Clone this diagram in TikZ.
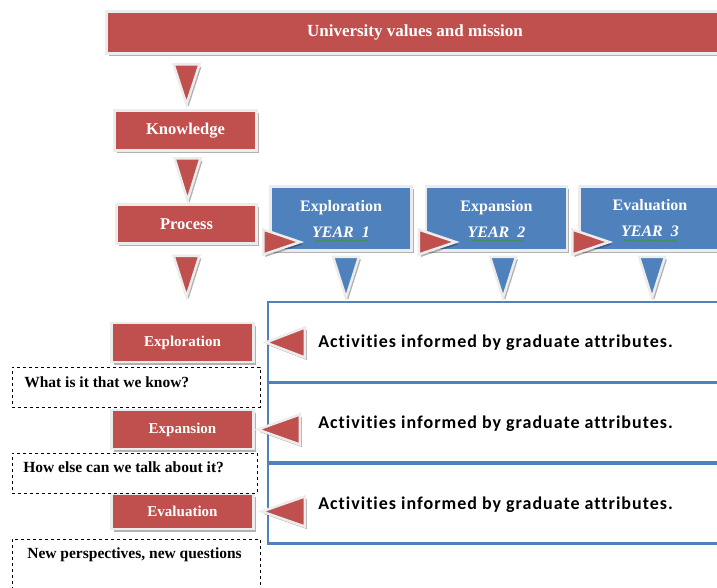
\documentclass[tikz,border=0pt]{standalone}
\usepackage{fontspec}
\setmainfont{Liberation Serif}
\newfontfamily\actfont[Ligatures=NoCommon,LetterSpace=5.5]{Carlito}
\usetikzlibrary{shadows,decorations.pathmorphing}
\definecolor{boxred}{RGB}{192,80,77}
\definecolor{boxblue}{RGB}{79,129,189}
\definecolor{rimgray}{RGB}{236,236,236}
\definecolor{spellgreen}{RGB}{60,150,60}

\tikzset{
  shadowed/.style={drop shadow={shadow xshift=2pt,shadow yshift=-2.5pt,fill=black,opacity=0.3}},
  redbox/.style={rectangle,fill=boxred,draw=rimgray,line width=2.5pt,shadowed,text=white,font=\bfseries\fontsize{16.5}{19}\selectfont},
  bluebox/.style={redbox,fill=boxblue,align=center,minimum width=141pt,minimum height=64pt,font=\bfseries\fontsize{16}{19}\selectfont},
  sidebox/.style={redbox,minimum width=142pt,minimum height=39pt,font=\bfseries\fontsize{15}{18}\selectfont},
  qbox/.style={rectangle,draw,dashed,thin,minimum width=248pt,minimum height=40pt},
  qtext/.style={anchor=west,font=\bfseries\fontsize{15.5}{18}\selectfont},
  actrow/.style={rectangle,draw=boxblue,line width=2.5pt,minimum width=457pt,minimum height=80pt},
  acttext/.style={anchor=west,xshift=48pt,yshift=-1pt,font=\actfont\bfseries\fontsize{18}{21}\selectfont},
  pointer/.style={draw=rimgray,line width=2.5pt,line join=miter,shadowed},
  spell/.style={draw=spellgreen,line width=0.6pt,decorate,decoration={snake,amplitude=0.6pt,segment length=3pt}}
}

\begin{document}
\begin{tikzpicture}[x=1pt,y=-1pt]
\useasboundingbox (0,0) rectangle (717,587);

% mission banner and the top of the left column
\node[redbox,minimum width=617pt,minimum height=42pt,font=\bfseries\fontsize{17}{19}\selectfont] (mission) at (415,32.5) {University values and mission};
\node[redbox,minimum width=142pt,minimum height=40pt] (know) at (185.5,130.5) {Knowledge};
\node[redbox,minimum width=140pt,minimum height=39pt] (proc) at (186.5,224) {Process};

% the three years
\foreach \x/\nm/\ttl/\yr in {341/yr1/Exploration/1,496.5/yr2/Expansion/2,650/yr3/Evaluation/3}{
  \node[bluebox] (\nm) at (\x,218.5) {\ttl\\[7pt]\textit{YEAR\ \ \yr}};
  \draw[spell] ([xshift=-26pt,yshift=-22pt]\nm.center) -- ++(53,0);
}

% activity rows
\foreach \y/\nm in {342/act1,422.5/act2,503.5/act3}
  \node[actrow,label={[acttext]west:Activities informed by graduate attributes.}] (\nm) at (496.5,\y) {};

% stages with their questions
\node[sidebox] (exl) at (182.5,342.5) {Exploration};
\node[sidebox] (exn) at (182.5,429.5) {Expansion};
\node[sidebox,minimum height=35pt] (evl) at (182.5,511.5) {Evaluation};
\node[qbox,label={[qtext,xshift=9pt,yshift=-15pt]north west:What is it that we know?}] (q1) at (136,387) {};
\node[qbox,minimum width=245pt,label={[qtext,xshift=8pt,yshift=-14pt]north west:How else can we talk about it?}] (q2) at (134.5,473) {};
\node[qbox,minimum height=62pt,label={[qtext,xshift=12pt,yshift=-16pt]north west:New perspectives, new questions}] (q3) at (136,570) {};

% pointers
\foreach \nm/\dy/\h in {know/5/40,proc/3/42}
  \filldraw[pointer,fill=boxred] ([xshift=1pt,yshift=\dy pt]\nm.north) -- ++(-13,-\h) -- ++(26,0) -- cycle;
\filldraw[pointer,fill=boxred] ([yshift=-52pt]proc.south) -- ++(-13,-41) -- ++(26,0) -- cycle;
\foreach \nm/\dx in {yr1/5,yr2/6.5,yr3/2}{
  \filldraw[pointer,fill=boxblue] ([xshift=\dx pt,yshift=-46pt]\nm.south) -- ++(-13,-41) -- ++(26,0) -- cycle;
  \filldraw[pointer,fill=boxred] ([xshift=31pt,yshift=-23.5pt]\nm.west) -- ++(-37,-12.5) -- ++(0,25) -- cycle;
}
\foreach \nm/\dx/\len in {exl/11/39,exn/3/42,evl/7/43}
  \filldraw[pointer,fill=boxred] ([xshift=\dx pt]\nm.east) -- ++(\len,-15) -- ++(0,30) -- cycle;
\end{tikzpicture}
\end{document}
